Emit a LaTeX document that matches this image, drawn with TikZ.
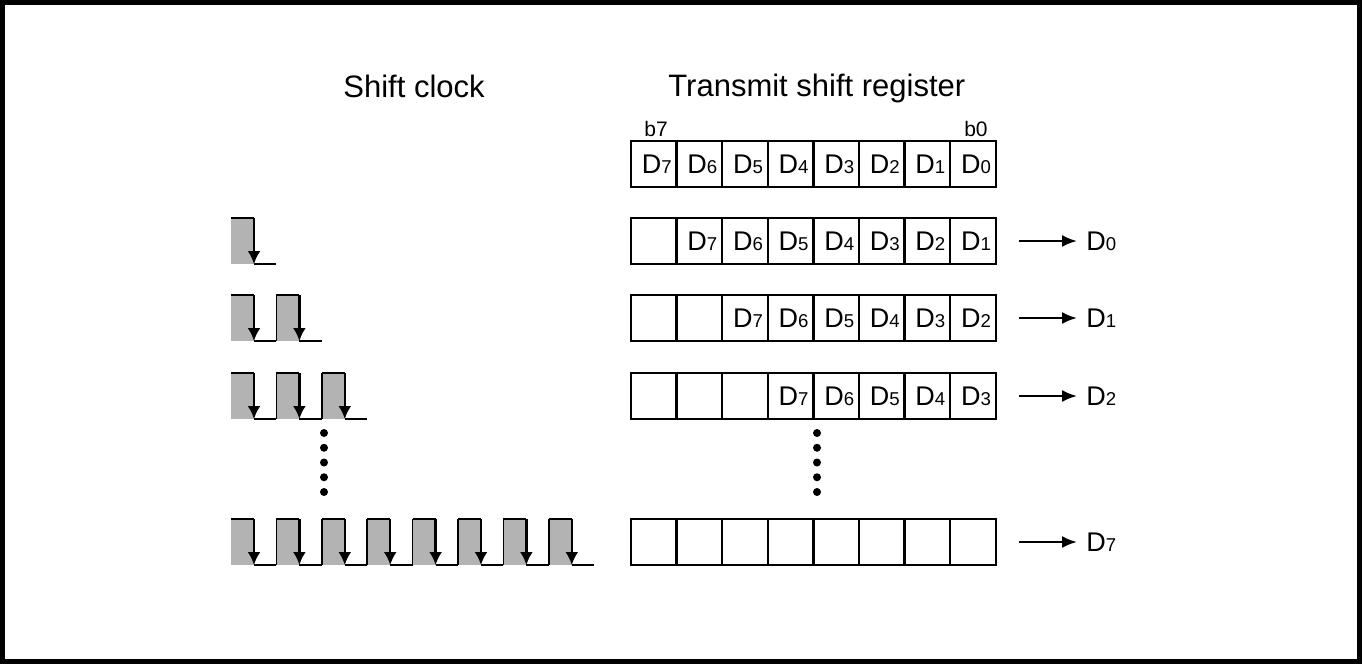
\documentclass[tikz,border=0pt]{standalone}
\usepackage{fontspec}
\setmainfont{Liberation Sans}
\usetikzlibrary{arrows.meta}
\definecolor{pulsegrey}{RGB}{179,179,179}
\newcommand{\dreg}[1]{D{\fontsize{9.3}{9.3}\selectfont #1}}
\tikzset{
  cell/.style={draw,line width=1.25pt,minimum width=22.8pt,minimum height=23pt,inner sep=0pt,font=\fontsize{13.5}{13.5}\selectfont},
  title/.style={anchor=base west,inner sep=0pt,font=\fontsize{15.5}{16}\selectfont},
  bitlabel/.style={inner sep=0pt,font=\fontsize{10.5}{11}\selectfont},
  outlabel/.style={anchor=west,inner sep=0pt,font=\fontsize{13.5}{13.5}\selectfont},
  outarrow/.style={line width=1.25pt,shorten >=4.5pt,-{Latex[length=7.5pt,width=6pt]}},
  clkline/.style={line width=0.85pt},
  clkarrow/.style={line width=1.2pt,-{Latex[length=6.5pt,width=6.5pt]}}
}
\begin{document}
\begin{tikzpicture}[x=0.5pt,y=-0.5pt]
\useasboundingbox (0,0) rectangle (1363,665);
\draw[line width=2.5pt] (2.5,2.5) rectangle (1359,661);
% titles
\node[title] (clktitle) at (343,97) {Shift clock};
\node[title] (regtitle) at (668,96) {Transmit shift register};
\node[bitlabel,anchor=base west] (bsev) at (644,136) {b7};
\node[bitlabel,anchor=base east] (bzero) at (988,136) {b0};
% shift clock pulses
\foreach \n/\y in {1/218,2/295,3/373,8/519}
{
  \foreach \k in {1,...,\n}
  {
    \pgfmathsetmacro\xa{231+(\k-1)*45.4}
    \fill[pulsegrey] (\xa,\y) rectangle ++(23,46);
    \draw[clkline] (\xa,\y) -- ++(23,0);
    \ifnum\k>1 \draw[clkline] (\xa,\y) -- ++(0,46); \fi
    \draw[clkline] (\xa+23,\y+46) -- ++(22.4,0);
    \draw[clkarrow] (\xa+23,\y) -- ++(0,46);
  }
}
% register rows (row 8 = all empty)
\foreach \r/\y in {0/141,1/218,2/295,3/373,8/519}
{
  \foreach \j in {0,...,7}
  {
    \pgfmathtruncatemacro\d{7-\j+\r}
    \ifnum\j<\r \def\txt{} \else \def\txt{\hspace*{3pt}\dreg{\d}} \fi
    \node[cell] (r\r c\j) at ({653.8+45.6*\j},\y+23) {\txt};
  }
}
% serial output
\foreach \r/\o in {1/0,2/1,3/2,8/7}
{
  \node[outlabel] (out\r) at ([xshift=44.5pt]r\r c7.east) {\dreg{\o}};
  \draw[outarrow] ([xshift=11pt]r\r c7.east) -- (out\r.west);
}
% dots
\foreach \yy in {433,447.75,462.5,477.25,492}
{\fill (324,\yy) circle (2pt); \fill (817,\yy) circle (2pt);}
\end{tikzpicture}
\end{document}
